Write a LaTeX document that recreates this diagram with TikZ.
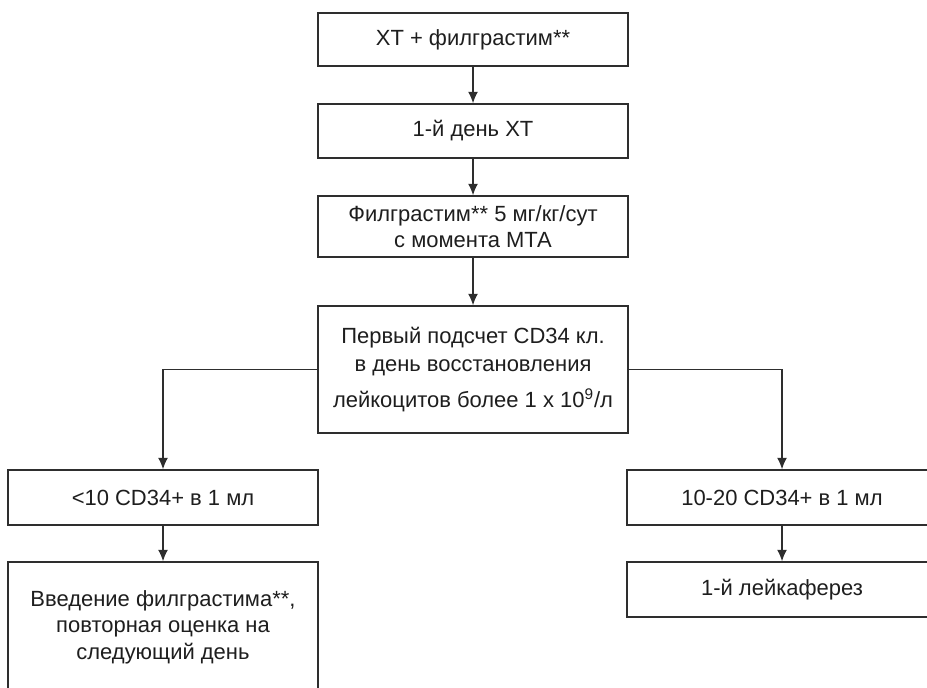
\documentclass[tikz,border=0pt]{standalone}
\usepackage{fontspec}
\setmainfont{Liberation Sans}
\usepackage{tikz}
\usetikzlibrary{arrows.meta}
\definecolor{linegray}{HTML}{2E2E2E}
\definecolor{textgray}{HTML}{1E1E1E}
\tikzset{
  box/.style={draw=linegray, line width=0.8pt, fill=white, text=textgray,
    align=center, minimum width=6.2cm, font=\fontsize{12.5}{15}\selectfont},
  arr/.style={-{Latex[length=2.3mm,width=2mm]}, draw=linegray, line width=0.8pt}
}
\begin{document}
\begin{tikzpicture}
\useasboundingbox (0,0) rectangle (18.54,13.74);
\clip (0,0) rectangle (18.54,13.74);
% central column
\node[box, minimum height=1.06cm] (xt) at (9.46,12.95) {ХТ + филграстим**};
\node[box, minimum height=1.08cm] (day1) at (9.46,11.12) {1-й день ХТ};
\node[box, minimum height=1.22cm] (filg) at (9.46,9.21) {Филграстим** 5 мг/кг/сут\\с момента МТА};
\node[box, minimum height=2.54cm] (count) at (9.46,6.35) {Первый подсчет CD34 кл.\\[0.04cm]в день восстановления\\[0.18cm]лейкоцитов более 1 х 10\textsuperscript{9}/л};
% branches
\node[box, minimum height=1.1cm] (low) at (3.26,3.79) {<10 CD34+ в 1 мл};
\node[box, minimum height=2.6cm] (again) at (3.26,1.20) {Введение филграстима**,\\повторная оценка на\\следующий день};
\node[box, minimum height=1.1cm] (mid) at (15.64,3.79) {10-20 CD34+ в 1 мл};
\node[box, minimum height=1.1cm] (apher) at (15.64,1.95) {1-й лейкаферез};
\draw[arr] (xt) -- (day1);
\draw[arr] (day1) -- (filg);
\draw[arr] (filg) -- (count);
\draw[arr] (count.west) -| (low.north);
\draw[arr] (count.east) -| (mid.north);
\draw[arr] (low) -- (again);
\draw[arr] (mid) -- (apher);
\end{tikzpicture}
\end{document}
